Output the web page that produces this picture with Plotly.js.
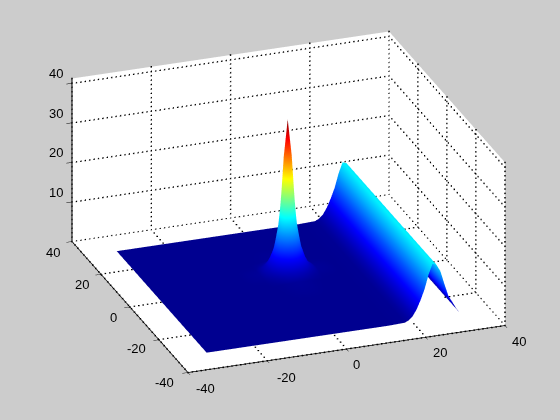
<!DOCTYPE html>
<html><head><meta charset="utf-8">
<script src="https://cdn.plot.ly/plotly-3.0.1.min.js"></script>
<style>html,body{margin:0;padding:0;background:#cccccc}</style></head>
<body><div id="chart" style="width:560px;height:420px"></div>
<script>
const xGrid=[-32,-20,-10,-5,-3,-2,-1,0,1,2,3,4,5,6,7,9,14,18,19,20,21,22,23,24,25,26,27,28,29,30,31,32];
const yGrid=[-31,-10,-1,1,2,3,4,5,6,7,8,9,10,11,13,20,31];
const xTicks=[-40,-20,0,20,40];
const yTicks=[-40,-20,0,20,40];
const zTicks=[0,10,20,30,40];
const zLabels=[10,20,30,40];
const zTop=41.2;
const ridge=[0.25,0.7,1.6,3.2,5.4,8,11.5,14.1,13.7,11.9,8.5,5.4,3.7,1.9,0.5];
const edgeL=[0.1,0.1,0.1];
const edgeR=[0.1];
const flat=[0.1,0.1,0.1,0.1,0.1,0.1,0.1,0.1,0.1,0.1,0.1,0.1,0.1];
const dy7=[0.1,0.15,0.2,0.3,0.4,0.45,0.5,0.45,0.4,0.3,0.2,0.15,0.1];
const dy5=[0.15,0.5,0.8,1.2,1.7,2,2.2,2,1.7,1.2,0.8,0.5,0.15];
const dy4=[0.2,0.8,1.3,2.2,3.1,3.9,4.2,3.9,3.1,2.2,1.3,0.8,0.2];
const dy3=[0.3,1.2,2.2,3.7,5.2,6.8,7.5,6.8,5.2,3.7,2.2,1.2,0.3];
const dy2=[0.4,1.7,3.1,5.2,8.5,12,14,12,8.5,5.2,3.1,1.7,0.4];
const dy1=[0.45,2,3.9,6.8,12,21,29.5,21,12,6.8,3.9,2,0.45];
const dy0=[0.5,2.2,4.2,7.5,14,29.5,38.7,29.5,14,7.5,4.2,2.2,0.5];
const rowList=[flat,flat,dy7,dy5,dy4,dy3,dy2,dy1,dy0,dy1,dy2,dy3,dy4,dy5,dy7,flat,flat];
const zRows=rowList.map(r=>edgeL.concat(r,edgeR,ridge));
const jet=[[0,'rgb(0,0,143)'],[0.125,'rgb(0,0,255)'],[0.375,'rgb(0,255,255)'],[0.625,'rgb(255,255,0)'],[0.875,'rgb(255,0,0)'],[1,'rgb(128,0,0)']];

function seg(xs,ys,zs,w){
  return {type:'scatter3d',mode:'lines',x:xs,y:ys,z:zs,hoverinfo:'skip',showlegend:false,
    line:{color:'#000',width:w}};
}
const dotX=[],dotY=[],dotZ=[];
function underSurface(x,y,z){
  return z===0&&x>=xGrid[0]&&x<=xGrid[xGrid.length-1]&&y>=yGrid[0]&&y<=yGrid[yGrid.length-1];
}
function dotted(p,q,n){
  for(let i=0;i<=n;i++){const t=i/n;
    const x=p[0]+(q[0]-p[0])*t,y=p[1]+(q[1]-p[1])*t,z=p[2]+(q[2]-p[2])*t;
    if(underSurface(x,y,z))continue;
    dotX.push(x);dotY.push(y);dotZ.push(z);}
}
const traces=[{type:'surface',x:xGrid,y:yGrid,z:zRows,colorscale:jet,cmin:0,cmax:38.7,showscale:false,
  lighting:{ambient:1,diffuse:0,specular:0,roughness:1,fresnel:0},hoverinfo:'skip',
  contours:{x:{show:false},y:{show:false},z:{show:false}}}];
const X0=xTicks[0],X1=xTicks[4],Y0=yTicks[0],Y1=yTicks[4],Z0=zTicks[0];
const nX=72,nY=39,nZ=37;
xTicks.forEach(v=>{
  dotted([v,Y0,Z0],[v,Y1,Z0],nY);
  dotted([v,Y1,Z0],[v,Y1,zTop],nZ);
});
yTicks.forEach(v=>{
  dotted([X0,v,Z0],[X1,v,Z0],nX);
  dotted([X1,v,Z0],[X1,v,zTop],nZ);
});
zTicks.forEach(v=>{
  dotted([X0,Y1,v],[X1,Y1,v],nX);
  dotted([X1,Y0,v],[X1,Y1,v],nY);
});
traces.push({type:'scatter3d',mode:'markers',x:dotX,y:dotY,z:dotZ,hoverinfo:'skip',showlegend:false,
  marker:{color:'#000',size:0.8,symbol:'square',line:{width:0}}});
traces.push(seg([X0,X0],[Y1,Y1],[Z0,zTop],2));
traces.push(seg([X0,X0],[Y0,Y1],[Z0,Z0],1.5));
traces.push(seg([X0,X1],[Y0,Y0],[Z0,Z0],1.5));

const font={family:'"Liberation Sans",Arial,sans-serif',size:13,color:'#000'};
function ax(range,vals){return {range:range,autorange:false,tickmode:'array',tickvals:vals,ticktext:vals.map(v=>''),
  showgrid:false,zeroline:false,showspikes:false,showline:false,ticks:'outside',ticklen:6,tickwidth:1,tickcolor:'#000',
  tickfont:font,title:{text:''},showbackground:true,backgroundcolor:'#fff'};}
const xShift=[[18,-16],[19,-17],[10.5,-15.5],[14,-15.5],[14,-16]];
const yShift=[[-23,-10],[-22,-9],[-16,-10.5],[-19,-10],[-19,-11]];
const notes=[];
xTicks.forEach((v,i)=>notes.push({x:v,y:Y0,z:Z0,text:String(v),showarrow:false,font:font,xshift:xShift[i][0],yshift:xShift[i][1]}));
yTicks.forEach((v,i)=>notes.push({x:X0,y:v,z:Z0,text:String(v),showarrow:false,font:font,xshift:yShift[i][0],yshift:yShift[i][1]}));
zLabels.forEach(v=>notes.push({x:X0,y:Y1,z:v,text:String(v),showarrow:false,font:font,xshift:-16,yshift:9.5}));
const k=2, s=1.005;
Plotly.newPlot('chart',traces,{
  width:560,height:420,margin:{l:0,r:0,t:0,b:0},paper_bgcolor:'#cccccc',showlegend:false,
  scene:{domain:{x:[0.03,1],y:[0.038,1]},annotations:notes,
    xaxis:ax([X0,X1],xTicks),yaxis:ax([Y0,Y1],yTicks),zaxis:ax([Z0,zTop],zLabels),
    aspectmode:'manual',aspectratio:{x:1.661*s,y:1.677*s,z:0.880*s},
    camera:{projection:{type:'orthographic'},up:{x:0,y:0,z:1},center:{x:0,y:0,z:0},
      eye:{x:-0.3107*k,y:-0.8574*k,z:0.409*k}}}
},{displayModeBar:false});
</script></body></html>
